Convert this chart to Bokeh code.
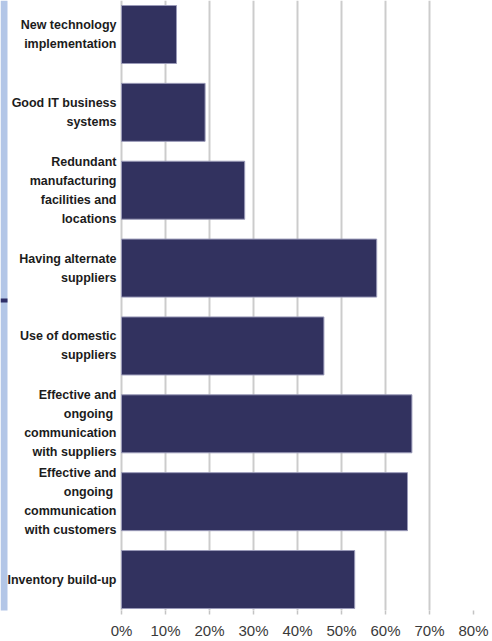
from bokeh.plotting import figure
from bokeh.models import Range1d, FixedTicker, ColumnDataSource, BoxAnnotation
from bokeh.core.properties import value
from bokeh.embed import file_html
from bokeh.resources import INLINE

# Survey: measures taken to strengthen the supply chain (share of respondents, %)
measures = [
    "New technology\nimplementation",
    "Good IT business\nsystems",
    "Redundant\nmanufacturing\nfacilities and\nlocations",
    "Having alternate\nsuppliers",
    "Use of domestic\nsuppliers",
    "Effective and\nongoing \ncommunication\nwith suppliers",
    "Effective and\nongoing \ncommunication\nwith customers",
    "Inventory build-up",
]
shares = [12.5, 19, 28, 58, 46, 66, 65, 53]

tick_values = [0, 10, 20, 30, 40, 50, 60, 70, 80]
tick_labels = {t: f"{t}%" for t in tick_values}

# layout constants (pixels)
W, H = 492, 641
LABEL_ROOM = 121        # space left of the 0% line for the category labels
PX_PER_PCT = 4.4
ROW_PX = 77.86
FIRST_ROW_PX = 34
FRAME_H = 610
LINE_PX = 19
STRIP_END_PX = 632

rows = list(range(len(measures)))

x_range = Range1d(-LABEL_ROOM / PX_PER_PCT, tick_values[-1])
y_range = Range1d((FRAME_H - FIRST_ROW_PX) / ROW_PX, -FIRST_ROW_PX / ROW_PX)

p = figure(
    width=W, height=H,
    x_range=x_range, y_range=y_range,
    output_backend="svg", toolbar_location=None,
    y_axis_location=None,
    min_border_left=0, min_border_top=0,
    min_border_right=W - LABEL_ROOM - int(tick_values[-1] * PX_PER_PCT),
    min_border_bottom=H - FRAME_H,
    background_fill_color="white", border_fill_color="white",
)
p.outline_line_color = None

# decorative side strip (runs a little past the plot area at the bottom)
strip_left = x_range.start
strip_right = x_range.start + 7 / PX_PER_PCT
p.add_layout(BoxAnnotation(left=strip_left, right=strip_right, top=y_range.end,
                           bottom=(STRIP_END_PX - FIRST_ROW_PX) / ROW_PX,
                           fill_color="#b3c6e7", fill_alpha=1.0, line_color=None,
                           level="underlay"))
p.quad(left=strip_left, right=strip_right,
       top=(298 - FIRST_ROW_PX) / ROW_PX, bottom=(302 - FIRST_ROW_PX) / ROW_PX,
       fill_color="#2e2e68", line_color=None)

bars = ColumnDataSource(dict(y=rows, share=shares, zero=[0] * len(rows)))
p.hbar(y="y", left="zero", right="share", height=58 / ROW_PX, source=bars,
       fill_color="#32325f", line_color="#9a9ab8", line_width=1)

# category labels: one text item per line so every line is right-aligned
ly, lt, loff = [], [], []
for i, lab in enumerate(measures):
    parts = lab.split("\n")
    n = len(parts)
    for j, part in enumerate(parts):
        ly.append(i)
        lt.append(part)
        loff.append((j - (n - 1) / 2) * LINE_PX)
labels = ColumnDataSource(dict(y=ly, text=lt, yoff=loff, zero=[0] * len(ly)))
p.text(x="zero", y="y", text="text", y_offset="yoff", source=labels,
       x_offset=-5, text_align="right", text_baseline="middle",
       text_font=value("Liberation Sans"), text_font_style="bold",
       text_font_size="12.5px", text_color="#1c1c1c")

p.ygrid.visible = False
p.xgrid.ticker = FixedTicker(ticks=tick_values)
p.xgrid.grid_line_color = "#cccccc"
p.xgrid.grid_line_width = 2

ax = p.xaxis[0]
ax.ticker = FixedTicker(ticks=tick_values)
ax.major_label_overrides = tick_labels
ax.axis_line_color = None
ax.major_tick_line_color = "#c4c4c4"
ax.major_tick_line_width = 1.5
ax.major_tick_out = 4
ax.major_tick_in = 0
ax.minor_tick_line_color = None
ax.major_label_standoff = 7
ax.major_label_text_font = "Liberation Sans"
ax.major_label_text_font_size = "15px"
ax.major_label_text_color = "#3a3a3a"

open("out.html", "w").write(file_html(p, INLINE))
